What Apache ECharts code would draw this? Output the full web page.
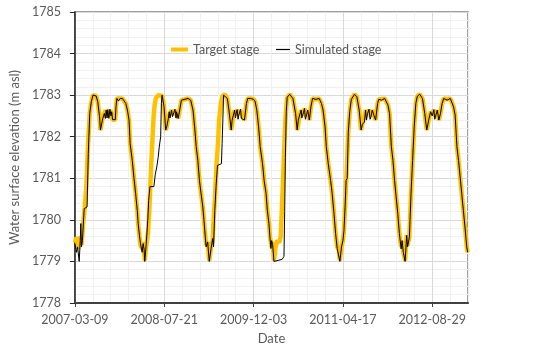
<!DOCTYPE html>
<html>
<head>
<meta charset="utf-8">
<script src="https://cdn.jsdelivr.net/npm/echarts@6/dist/echarts.min.js"></script>
<style>
  html, body { margin: 0; padding: 0; background: #fff; }
  #main { width: 548px; height: 357px; }
</style>
</head>
<body>
<div id="main"></div>
<script>
// day offsets from 2007-03-09
const startDate = Date.UTC(2007, 2, 9)
const xTickDays = [0, 500, 1000, 1500, 2000]
const yTicks = [1778, 1779, 1780, 1781, 1782, 1783, 1784, 1785]

const targetDays = [
  0, 9, 18, 28, 37, 46, 55, 64, 74, 83, 92, 101, 110, 119, 128, 138, 143, 152, 156, 165,
  171, 178, 184, 193, 198, 206, 211, 226, 230, 235, 244, 253, 266, 275, 285, 294, 303, 309, 321, 330,
  340, 349, 354, 362, 367, 376, 382, 387, 391, 398, 404, 409, 416, 422, 428, 434, 440, 446, 453, 465,
  476, 490, 499, 508, 514, 523, 532, 541, 550, 560, 569, 578, 587, 596, 606, 633, 648, 661, 670, 679,
  688, 697, 706, 716, 725, 734, 743, 752, 762, 771, 776, 785, 793, 802, 807, 817, 826, 839, 853, 862,
  875, 886, 894, 903, 908, 917, 927, 936, 949, 960, 967, 982, 1000, 1009, 1018, 1028, 1037, 1050, 1059, 1070,
  1077, 1086, 1092, 1101, 1107, 1114, 1123, 1132, 1143, 1152, 1162, 1169, 1178, 1187, 1202, 1220, 1235, 1244, 1257, 1266,
  1275, 1285, 1294, 1303, 1312, 1321, 1330, 1349, 1367, 1380, 1389, 1400, 1407, 1418, 1431, 1440, 1450, 1459, 1468, 1477,
  1483, 1492, 1500, 1506, 1512, 1518, 1524, 1530, 1538, 1547, 1565, 1578, 1591, 1602, 1609, 1620, 1627, 1638, 1646, 1657,
  1664, 1673, 1683, 1694, 1701, 1716, 1734, 1743, 1752, 1761, 1771, 1780, 1789, 1798, 1807, 1816, 1826, 1831, 1838, 1848,
  1857, 1862, 1872, 1881, 1890, 1899, 1908, 1917, 1930, 1945, 1958, 1969, 1982, 1991, 2000, 2009, 2018, 2028, 2037, 2046,
  2055, 2064, 2083, 2101, 2110, 2119, 2128, 2138, 2147, 2156, 2165, 2174, 2183, 2193, 2198
]
const targetStage = [
  1779.45, 1779.58, 1779.3, 1779.6, 1779.4, 1779.9, 1780.3, 1780.8, 1781.85, 1782.56, 1782.84, 1783.0, 1783.02, 1782.98, 1782.84, 1782.48, 1782.16, 1782.17, 1782.48, 1782.56,
  1782.64, 1782.52, 1782.65, 1782.48, 1782.64, 1782.6, 1782.41, 1782.41, 1782.72, 1782.92, 1782.88, 1782.92, 1782.92, 1782.9, 1782.8, 1782.64, 1782.4, 1781.84, 1781.43, 1781.03,
  1780.63, 1780.23, 1779.91, 1779.59, 1779.39, 1779.31, 1779.47, 1779.27, 1779.02, 1779.35, 1779.5, 1779.7, 1780.2, 1780.8, 1781.4, 1781.95, 1782.45, 1782.75, 1782.92, 1783.0,
  1783.02, 1782.98, 1782.72, 1782.16, 1782.24, 1782.48, 1782.56, 1782.64, 1782.52, 1782.64, 1782.6, 1782.44, 1782.44, 1782.88, 1782.92, 1782.92, 1782.88, 1782.64, 1782.24, 1781.76,
  1781.43, 1780.95, 1780.63, 1780.31, 1779.85, 1779.4, 1779.47, 1779.02, 1779.35, 1779.5, 1779.99, 1780.63, 1781.35, 1781.92, 1782.4, 1782.8, 1782.98, 1783.02, 1782.92, 1782.64,
  1782.16, 1782.48, 1782.64, 1782.56, 1782.65, 1782.52, 1782.64, 1782.48, 1782.4, 1782.8, 1782.92, 1782.92, 1782.9, 1782.84, 1782.64, 1782.24, 1781.76, 1781.35, 1780.95, 1780.63,
  1780.23, 1779.91, 1779.59, 1779.35, 1779.47, 1779.02, 1779.35, 1779.5, 1779.45, 1779.6, 1780.63, 1781.43, 1782.4, 1782.92, 1783.02, 1782.92, 1782.56, 1782.16, 1782.48, 1782.64,
  1782.52, 1782.68, 1782.48, 1782.64, 1782.4, 1782.72, 1782.92, 1782.9, 1782.92, 1782.8, 1782.64, 1782.24, 1781.76, 1781.35, 1780.95, 1780.63, 1780.15, 1779.67, 1779.35, 1779.27,
  1779.02, 1779.35, 1779.5, 1779.75, 1780.3, 1780.9, 1781.5, 1782.1, 1782.6, 1782.9, 1783.02, 1782.96, 1782.64, 1782.16, 1782.32, 1782.48, 1782.64, 1782.56, 1782.65, 1782.48,
  1782.64, 1782.52, 1782.4, 1782.8, 1782.9, 1782.9, 1782.92, 1782.88, 1782.76, 1782.56, 1781.76, 1781.43, 1780.95, 1780.55, 1780.15, 1779.67, 1779.35, 1779.5, 1779.22, 1779.02,
  1779.63, 1779.39, 1779.59, 1780.63, 1781.43, 1782.24, 1782.8, 1782.98, 1783.02, 1782.92, 1782.56, 1782.16, 1782.44, 1782.6, 1782.52, 1782.65, 1782.48, 1782.64, 1782.4, 1782.56,
  1782.8, 1782.92, 1782.9, 1782.92, 1782.88, 1782.72, 1782.52, 1781.76, 1781.43, 1781.03, 1780.63, 1780.23, 1779.83, 1779.35, 1779.22
]

const simDays = [
  0, 9, 15, 24, 30, 33, 37, 42, 52, 68, 75, 83, 92, 101, 110, 119, 128, 138, 143, 152,
  156, 165, 171, 175, 180, 184, 190, 196, 202, 206, 211, 226, 230, 235, 244, 253, 266, 275, 285, 294,
  303, 309, 321, 330, 340, 349, 354, 362, 367, 376, 382, 387, 391, 398, 404, 408, 413, 420, 442, 450,
  458, 466, 472, 480, 484, 488, 490, 499, 508, 514, 523, 528, 532, 541, 546, 550, 560, 566, 569, 578,
  587, 596, 606, 633, 648, 661, 670, 679, 688, 697, 706, 716, 725, 734, 743, 752, 762, 771, 776, 783,
  790, 798, 820, 824, 828, 832, 839, 853, 862, 875, 880, 886, 894, 899, 903, 908, 913, 917, 927, 932,
  936, 949, 960, 967, 982, 1000, 1009, 1018, 1028, 1037, 1050, 1059, 1070, 1077, 1086, 1092, 1097, 1101, 1107, 1114,
  1120, 1160, 1170, 1174, 1178, 1183, 1188, 1202, 1220, 1235, 1244, 1250, 1257, 1266, 1270, 1275, 1285, 1290, 1294, 1303,
  1312, 1321, 1330, 1349, 1367, 1380, 1389, 1400, 1407, 1418, 1431, 1440, 1450, 1459, 1468, 1477, 1483, 1492, 1500, 1506,
  1512, 1518, 1524, 1530, 1538, 1547, 1565, 1578, 1591, 1602, 1609, 1620, 1627, 1632, 1638, 1646, 1652, 1657, 1664, 1673,
  1683, 1694, 1701, 1716, 1734, 1743, 1752, 1761, 1771, 1780, 1789, 1798, 1807, 1816, 1826, 1831, 1838, 1848, 1857, 1862,
  1872, 1881, 1890, 1899, 1908, 1917, 1930, 1945, 1958, 1969, 1975, 1982, 1991, 2000, 2009, 2014, 2018, 2028, 2037, 2046,
  2055, 2064, 2083, 2101, 2110, 2119, 2128, 2138, 2147, 2156, 2165, 2174, 2183, 2193, 2198
]
const simulatedStage = [
  1779.43, 1779.22, 1779.35, 1779.0, 1779.5, 1779.91, 1779.35, 1779.5, 1780.27, 1780.31, 1781.6, 1782.56, 1782.84, 1783.0, 1783.02, 1782.98, 1782.84, 1782.48, 1782.16, 1782.17,
  1782.44, 1782.56, 1782.44, 1782.64, 1782.45, 1782.65, 1782.44, 1782.66, 1782.5, 1782.6, 1782.41, 1782.41, 1782.72, 1782.92, 1782.86, 1782.92, 1782.92, 1782.9, 1782.8, 1782.64,
  1782.4, 1781.84, 1781.43, 1781.03, 1780.63, 1780.23, 1779.91, 1779.59, 1779.43, 1779.22, 1779.43, 1779.3, 1779.0, 1779.35, 1779.35, 1780.0, 1780.47, 1780.8, 1780.8, 1781.1,
  1781.27, 1781.5, 1781.75, 1782.0, 1782.8, 1783.0, 1782.98, 1782.72, 1782.16, 1782.24, 1782.44, 1782.6, 1782.45, 1782.64, 1782.48, 1782.52, 1782.66, 1782.45, 1782.6, 1782.44,
  1782.44, 1782.88, 1782.92, 1782.92, 1782.88, 1782.64, 1782.24, 1781.76, 1781.43, 1780.95, 1780.63, 1780.31, 1779.85, 1779.35, 1779.47, 1779.0, 1779.31, 1779.55, 1779.35, 1780.23,
  1780.8, 1781.31, 1781.35, 1781.84, 1782.4, 1783.0, 1783.02, 1782.92, 1782.64, 1782.16, 1782.4, 1782.44, 1782.64, 1782.45, 1782.56, 1782.65, 1782.42, 1782.52, 1782.66, 1782.44,
  1782.48, 1782.4, 1782.8, 1782.92, 1782.92, 1782.9, 1782.84, 1782.64, 1782.24, 1781.76, 1781.35, 1780.95, 1780.63, 1780.23, 1779.91, 1779.55, 1779.31, 1779.5, 1779.4, 1779.0,
  1779.02, 1779.05, 1779.12, 1780.2, 1781.5, 1782.6, 1782.95, 1783.02, 1782.92, 1782.56, 1782.16, 1782.4, 1782.44, 1782.64, 1782.45, 1782.52, 1782.68, 1782.42, 1782.48, 1782.64,
  1782.4, 1782.72, 1782.92, 1782.9, 1782.92, 1782.8, 1782.64, 1782.24, 1781.76, 1781.35, 1780.95, 1780.63, 1780.15, 1779.67, 1779.31, 1779.27, 1779.0, 1779.35, 1779.5, 1779.75,
  1780.3, 1780.95, 1781.0, 1782.1, 1782.6, 1782.9, 1783.02, 1782.96, 1782.64, 1782.16, 1782.3, 1782.35, 1782.64, 1782.4, 1782.56, 1782.66, 1782.42, 1782.48, 1782.64, 1782.52,
  1782.4, 1782.8, 1782.9, 1782.88, 1782.92, 1782.88, 1782.76, 1782.56, 1781.76, 1781.43, 1780.95, 1780.55, 1780.15, 1779.67, 1779.3, 1779.5, 1779.22, 1779.0, 1779.63, 1779.35,
  1779.59, 1780.63, 1781.43, 1782.24, 1782.8, 1782.98, 1783.02, 1782.92, 1782.56, 1782.16, 1782.2, 1782.44, 1782.6, 1782.5, 1782.65, 1782.42, 1782.48, 1782.64, 1782.4, 1782.56,
  1782.8, 1782.92, 1782.88, 1782.92, 1782.88, 1782.72, 1782.52, 1781.76, 1781.43, 1781.03, 1780.63, 1780.23, 1779.83, 1779.35, 1779.22
]

const textColor = '#595959'
const fontFamily = 'Lato'

function dayLabel (d) {
  if (xTickDays.indexOf(d) < 0) return ''
  return new Date(startDate + d * 86400000).toISOString().slice(0, 10)
}

const chart = echarts.init(document.getElementById('main'))
const option = {
  animation: false,
  textStyle: { fontFamily: fontFamily },
  grid: {
    left: 68,
    right: 80,
    top: 12,
    bottom: 54,
    show: true,
    borderColor: '#808080',
    borderWidth: 1.5
  },
  legend: [{
    data: ['Target stage'],
    left: 171,
    top: 43,
    padding: 0,
    icon: 'rect',
    itemWidth: 17,
    itemHeight: 4,
    textStyle: { color: textColor, fontSize: 12.5, fontFamily: fontFamily }
  }, {
    data: ['Simulated stage'],
    left: 276,
    top: 43,
    padding: 0,
    icon: 'rect',
    itemWidth: 14,
    itemHeight: 1.2,
    textStyle: { color: textColor, fontSize: 12.5, fontFamily: fontFamily }
  }],
  xAxis: [{
    type: 'value',
    min: 0,
    max: 2200,
    interval: 500,
    name: 'Date',
    nameLocation: 'middle',
    nameGap: 29,
    nameTextStyle: { color: textColor, fontSize: 13 },
    axisLine: { lineStyle: { color: '#404040', width: 2 } },
    axisTick: { show: true, length: 4, lineStyle: { color: '#404040' } },
    axisLabel: {
      color: textColor,
      fontSize: 12.5,
      margin: 10,
      showMaxLabel: false,
      formatter: dayLabel
    },
    splitLine: { show: false }
  }, {
    type: 'value',
    min: 0,
    max: 2200,
    interval: 100,
    position: 'bottom',
    axisLine: { show: false },
    axisTick: { show: false },
    axisLabel: { show: false },
    splitLine: {
      show: true,
      lineStyle: {
        color: ['#d9d9d9', '#f0f0f0', '#f0f0f0', '#f0f0f0', '#f0f0f0'],
        width: 1
      }
    }
  }],
  yAxis: {
    type: 'value',
    min: yTicks[0],
    max: yTicks[yTicks.length - 1],
    interval: 1,
    name: 'Water surface elevation (m asl)',
    nameLocation: 'middle',
    nameGap: 37,
    nameTextStyle: { color: textColor, fontSize: 13 },
    axisLine: { show: true, lineStyle: { color: '#262626', width: 1.5 } },
    axisTick: { show: true, length: 5, lineStyle: { color: '#262626' } },
    axisLabel: {
      color: textColor,
      fontSize: 12.5,
      margin: 14,
      formatter: v => String(v)
    },
    splitLine: { show: true, lineStyle: { color: '#d9d9d9', width: 1 } },
    minorTick: { show: false, splitNumber: 5 },
    minorSplitLine: { show: true, lineStyle: { color: '#f0f0f0', width: 1 } }
  },
  series: [{
    name: 'Target stage',
    type: 'line',
    xAxisIndex: 0,
    showSymbol: false,
    symbol: 'none',
    color: '#FFC000',
    lineStyle: { color: '#FFC000', width: 4.5 },
    emphasis: { disabled: true },
    data: targetDays.map((d, i) => [d, targetStage[i]])
  }, {
    name: 'Simulated stage',
    type: 'line',
    xAxisIndex: 0,
    showSymbol: false,
    symbol: 'none',
    color: '#000000',
    lineStyle: { color: '#000000', width: 1 },
    emphasis: { disabled: true },
    data: simDays.map((d, i) => [d, simulatedStage[i]])
  }]
}
chart.setOption(option)
</script>
</body>
</html>
